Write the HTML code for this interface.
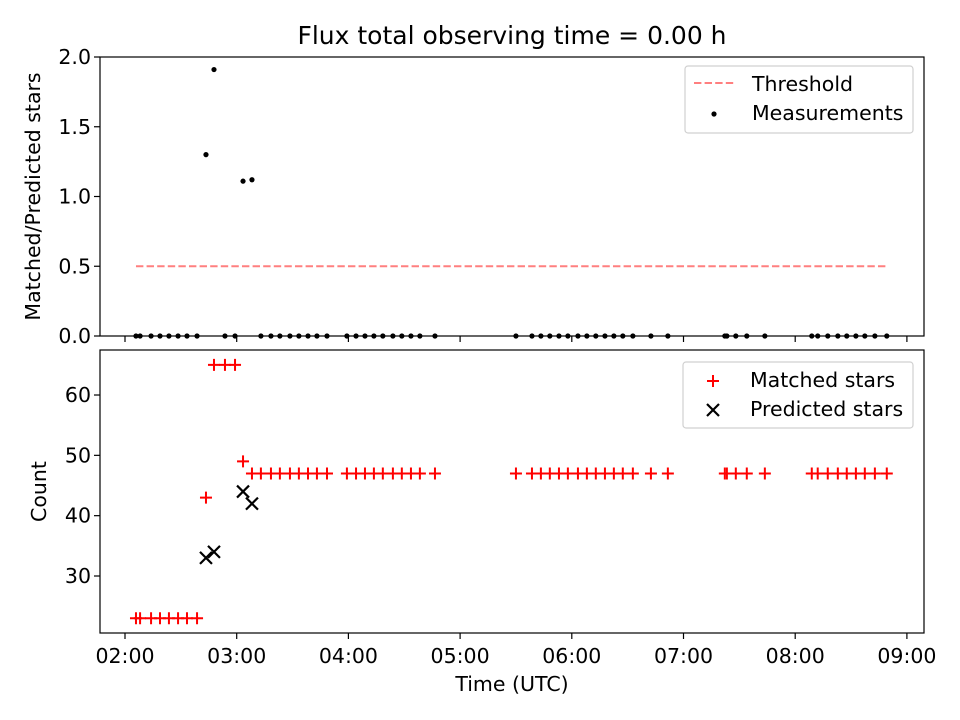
<!DOCTYPE html>
<html><head><meta charset="utf-8"><style>
body{margin:0;background:#fff}
svg{display:block;font-family:"DejaVu Sans","Liberation Sans",sans-serif}
svg text{font-size:20.5px}
svg text.title{font-size:25px}
</style></head><body>
<svg id="chart" width="960" height="720"></svg>
<script>
// minutes after 02:00 UTC
const timesMin=[5.9,8.1,14,18.8,23.6,28.5,33.3,38.7,43.5,47.8,53.7,59.1,63.4,68.2,73,78.4,83.2,88.6,93.4,98.3,103.1,108.5,119.2,124.1,128.9,133.7,138.5,143.9,148.7,153.6,158.4,166.5,210,218.6,223.4,228.2,233.1,237.9,243.3,248.1,252.9,257.8,262.6,267.4,272.8,282.5,291.6,322.2,323.3,328.1,334,343.7,368.9,372.1,377.5,382.9,387.7,392.6,397.4,402.8,409.2];
const matched=[23,23,23,23,23,23,23,23,43,65,65,65,49,47,47,47,47,47,47,47,47,47,47,47,47,47,47,47,47,47,47,47,47,47,47,47,47,47,47,47,47,47,47,47,47,47,47,47,47,47,47,47,47,47,47,47,47,47,47,47,47];
const predTimesMin=[43.5,47.8,63.4,68.2];
const predicted=[33,34,44,42];
const ratioTimesMin=timesMin;
const ratios=[0,0,0,0,0,0,0,0,1.30,1.91,0,0,1.11,1.12,0,0,0,0,0,0,0,0,0,0,0,0,0,0,0,0,0,0,0,0,0,0,0,0,0,0,0,0,0,0,0,0,0,0,0,0,0,0,0,0,0,0,0,0,0,0,0];
const threshold=0.5;
const xTickLabels=["02:00","03:00","04:00","05:00","06:00","07:00","08:00","09:00"];
const topYTicks=[0,0.5,1.0,1.5,2.0];
const botYTicks=[30,40,50,60];

const NS="http://www.w3.org/2000/svg";
const svg=document.getElementById('chart');
function mk(tag,attrs,parent){const e=document.createElementNS(NS,tag);for(const k in attrs)e.setAttribute(k,attrs[k]);(parent||svg).appendChild(e);return e;}
const L=100,R=924,T1=57,B1=336,T2=350,B2=633;
const X=m=>125+m*111.7/60;
const Y1=v=>336-v*139.5;
const Y2=v=>576-(v-30)*6.033;

let t=mk('text',{x:512,y:44,'text-anchor':'middle','class':'title',fill:'#000'});
t.textContent='Flux total observing time = 0.00 h';



let th=mk('line',{x1:X(ratioTimesMin[0]),x2:X(ratioTimesMin[ratioTimesMin.length-1]),y1:Y1(threshold),y2:Y1(threshold),stroke:'#ff0000','stroke-opacity':0.5,'stroke-width':2,'stroke-dasharray':'7.4,3.2'});



ratioTimesMin.forEach((m,i)=>{
  const c=mk('circle',{cx:X(m),cy:Y1(ratios[i]),r:2.6,fill:'#000'});
  
  
});

timesMin.forEach((m,i)=>{
  const x=X(m),y=Y2(matched[i]);
  const p=mk('path',{d:`M${x-6} ${y}H${x+6}M${x} ${y-6}V${y+6}`,stroke:'#ff0000','stroke-width':2});
  
  
});
predTimesMin.forEach((m,i)=>{
  const x=X(m),y=Y2(predicted[i]);
  const p=mk('path',{d:`M${x-6} ${y-6}L${x+6} ${y+6}M${x+6} ${y-6}L${x-6} ${y+6}`,stroke:'#000','stroke-width':2.2});
  
  
});

[[T1,B1,'top-axes-frame'],[T2,B2,'bottom-axes-frame']].forEach(([a,b,n])=>{
  const r=mk('rect',{x:L,y:a,width:R-L,height:b-a,fill:'none',stroke:'#000','stroke-width':1.2});
  
  
});
xTickLabels.forEach((lab,i)=>{
  const x=X(i*60);
  mk('line',{x1:x,x2:x,y1:B1,y2:B1+6,stroke:'#000','stroke-width':1.2});
  mk('line',{x1:x,x2:x,y1:B2,y2:B2+6,stroke:'#000','stroke-width':1.2});
  const tx=mk('text',{x:x,y:B2+30,'text-anchor':'middle'});
  tx.textContent=lab;
  
  
});
topYTicks.forEach(v=>{
  const y=Y1(v);
  mk('line',{x1:L-6,x2:L,y1:y,y2:y,stroke:'#000','stroke-width':1.2});
  const tx=mk('text',{x:L-9,y:y+7,'text-anchor':'end'});
  tx.textContent=v.toFixed(1);
  
  
});
botYTicks.forEach(v=>{
  const y=Y2(v);
  mk('line',{x1:L-6,x2:L,y1:y,y2:y,stroke:'#000','stroke-width':1.2});
  const tx=mk('text',{x:L-9,y:y+7,'text-anchor':'end'});
  tx.textContent=v;
  
  
});
let yl=mk('text',{x:0,y:0,'text-anchor':'middle',transform:`translate(40,${(T1+B1)/2}) rotate(-90)`});
yl.textContent='Matched/Predicted stars';


let yl2=mk('text',{x:0,y:0,'text-anchor':'middle',transform:`translate(46,${(T2+B2)/2}) rotate(-90)`});
yl2.textContent='Count';


let xl=mk('text',{x:512,y:691,'text-anchor':'middle'});
xl.textContent='Time (UTC)';



const lg1=mk('g',{});


mk('rect',{x:685,y:66,width:228,height:67,rx:3,fill:'#fff','fill-opacity':0.8,stroke:'#d0d0d0','stroke-width':1.2},lg1);
mk('line',{x1:694,x2:735,y1:83,y2:83,stroke:'#ff0000','stroke-opacity':0.5,'stroke-width':2,'stroke-dasharray':'7.4,3.2'},lg1);
mk('circle',{cx:714,cy:114,r:2.6,fill:'#000'},lg1);
let a=mk('text',{x:752,y:91},lg1);a.textContent='Threshold';
let b=mk('text',{x:752,y:120},lg1);b.textContent='Measurements';

const lg2=mk('g',{});


mk('rect',{x:683,y:362,width:230,height:66,rx:3,fill:'#fff','fill-opacity':0.8,stroke:'#d0d0d0','stroke-width':1.2},lg2);
mk('path',{d:'M707 381H719M713 375V387',stroke:'#ff0000','stroke-width':2},lg2);
mk('path',{d:'M707 404L719 416M719 404L707 416',stroke:'#000','stroke-width':2.2},lg2);
let c=mk('text',{x:750,y:387},lg2);c.textContent='Matched stars';
let d=mk('text',{x:750,y:416},lg2);d.textContent='Predicted stars';
</script>
</body></html>
